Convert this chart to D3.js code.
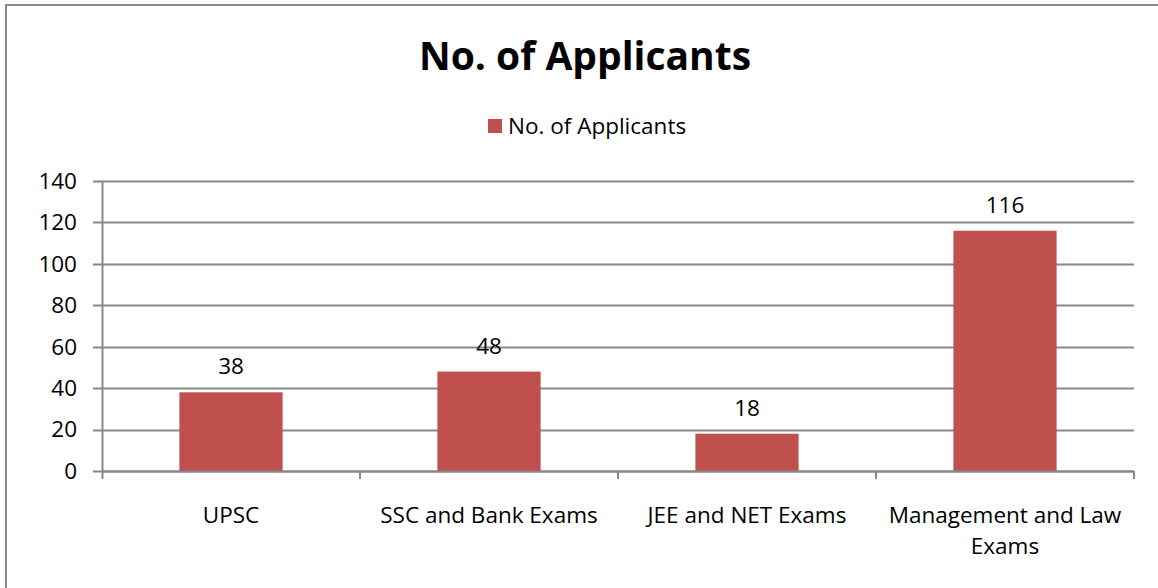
<!DOCTYPE html>
<html>
<head>
<meta charset="utf-8">
<script src="https://cdn.jsdelivr.net/npm/d3@7"></script>
<style>
  body { margin: 0; background: #fff; }
  svg { display: block; font-family: "Open Sans", sans-serif; }
</style>
</head>
<body>
<div id="chart"></div>
<script>
var categories = ['UPSC', 'SSC and Bank Exams', 'JEE and NET Exams', 'Management and Law Exams'];
var categoryLines = [['UPSC'], ['SSC and Bank Exams'], ['JEE and NET Exams'], ['Management and Law', 'Exams']];
var applicants = [38, 48, 18, 116];
var yTicks = [0, 20, 40, 60, 80, 100, 120, 140];
var seriesName = 'No. of Applicants';

var width = 1158,
    height = 588,
    margin = {top: 181, right: 24, bottom: 117, left: 102},
    barColor = '#C0504D',
    gridColor = '#888888';

var svg = d3.select('#chart')
  .append('svg')
  .attr('width', width)
  .attr('height', height);

// outer frame (only left/top visible in the original)
svg.append('rect')
  .attr('x', 6).attr('y', 5)
  .attr('width', width + 10).attr('height', height + 10)
  .attr('fill', 'none')
  .attr('stroke', '#8c8c8c')
  .attr('stroke-width', 2);

var x = d3.scaleBand()
  .domain(categories)
  .range([margin.left, width - margin.right])
  .paddingInner(0.6)
  .paddingOuter(0.3);

var y = d3.scaleLinear()
  .domain([0, 140])
  .range([height - margin.bottom, margin.top]);

// gridlines
svg.append('g')
  .selectAll('line')
  .data(yTicks)
  .enter()
  .append('line')
  .attr('x1', margin.left - 9)
  .attr('x2', width - margin.right)
  .attr('y1', function(d) { return Math.round(y(d)) + 0.5; })
  .attr('y2', function(d) { return Math.round(y(d)) + 0.5; })
  .attr('stroke', gridColor)
  .attr('stroke-width', 2);

// y labels
svg.append('g')
  .selectAll('text')
  .data(yTicks)
  .enter()
  .append('text')
  .attr('x', 77)
  .attr('y', function(d) { return y(d); })
  .attr('dy', '0.35em')
  .attr('text-anchor', 'end')
  .attr('font-size', 22.5)
  .attr('fill', '#000')
  .text(function(d) { return d; });

// y axis line
svg.append('line')
  .attr('x1', margin.left + 0.5).attr('x2', margin.left + 0.5)
  .attr('y1', y(140)).attr('y2', y(0) + 8)
  .attr('stroke', gridColor)
  .attr('stroke-width', 2);

// bars
svg.append('g')
  .selectAll('rect')
  .data(applicants)
  .enter()
  .append('rect')
  .attr('x', function(d, i) { return x(categories[i]); })
  .attr('y', function(d) { return y(d); })
  .attr('width', x.bandwidth())
  .attr('height', function(d) { return y(0) - y(d); })
  .attr('fill', barColor);

// x axis baseline + ticks at band boundaries
var step = x.step();
var boundaries = categories.map(function(c) { return x(c) - x.paddingOuter() * step; });
boundaries.push(width - margin.right);
svg.append('line')
  .attr('x1', margin.left).attr('x2', width - margin.right)
  .attr('y1', Math.round(y(0)) + 0.5).attr('y2', Math.round(y(0)) + 0.5)
  .attr('stroke', gridColor)
  .attr('stroke-width', 2);
svg.append('g')
  .selectAll('line')
  .data(boundaries.slice(1))
  .enter()
  .append('line')
  .attr('x1', function(d) { return d; })
  .attr('x2', function(d) { return d; })
  .attr('y1', y(0)).attr('y2', y(0) + 8)
  .attr('stroke', gridColor)
  .attr('stroke-width', 2);

// data labels
svg.append('g')
  .selectAll('text')
  .data(applicants)
  .enter()
  .append('text')
  .attr('x', function(d, i) { return x(categories[i]) + x.bandwidth() / 2; })
  .attr('y', function(d) { return y(d) - 18; })
  .attr('text-anchor', 'middle')
  .attr('font-size', 22.5)
  .attr('fill', '#000')
  .text(function(d) { return d; });

// category labels
var cat = svg.append('g')
  .selectAll('text')
  .data(categoryLines)
  .enter()
  .append('text')
  .attr('x', function(d, i) { return x(categories[i]) + x.bandwidth() / 2; })
  .attr('y', 523)
  .attr('text-anchor', 'middle')
  .attr('font-size', 22.5)
  .attr('fill', '#000');
cat.selectAll('tspan')
  .data(function(d) { return d; })
  .enter()
  .append('tspan')
  .attr('x', function() { return d3.select(this.parentNode).attr('x'); })
  .attr('dy', function(d, i) { return i === 0 ? 0 : 31; })
  .text(function(d) { return d; });

// title
svg.append('text')
  .attr('x', 585)
  .attr('y', 70)
  .attr('text-anchor', 'middle')
  .attr('font-size', 39)
  .attr('font-weight', 'bold')
  .attr('fill', '#000')
  .text(seriesName);

// legend
svg.append('rect')
  .attr('x', 488).attr('y', 119)
  .attr('width', 14).attr('height', 14)
  .attr('fill', barColor);
svg.append('text')
  .attr('x', 508)
  .attr('y', 126)
  .attr('dy', '0.35em')
  .attr('font-size', 22.5)
  .attr('fill', '#000')
  .text(seriesName);
</script>
</body>
</html>
